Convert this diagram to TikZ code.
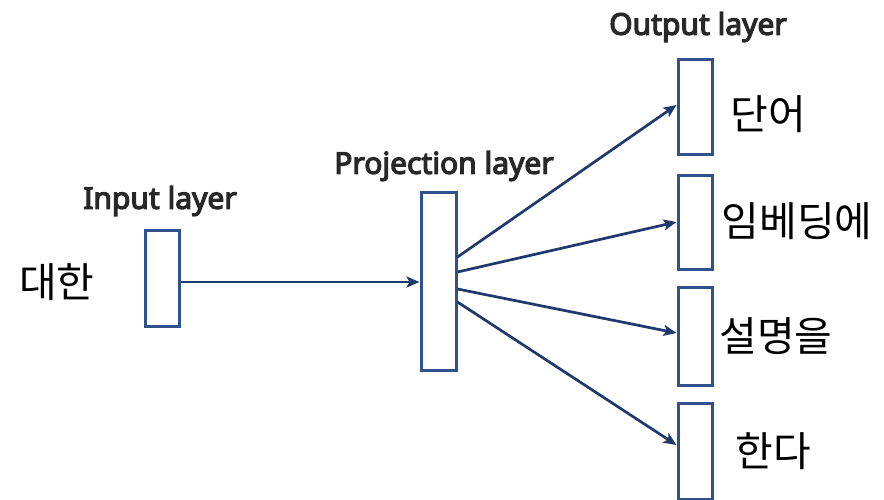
\documentclass[tikz,border=0pt]{standalone}
\usepackage{fontspec}
\usetikzlibrary{arrows.meta,calc}
\newfontfamily\kr{Noto Sans CJK KR}
\newfontfamily\lab{Noto Sans}[FakeBold=4]
\definecolor{boxblue}{RGB}{47,82,143}
\definecolor{arrblue}{RGB}{31,56,110}
\definecolor{labgray}{RGB}{40,40,40}
\begin{document}
\begin{tikzpicture}[x=1pt,y=-1pt,
  layerbox/.style={draw=boxblue,line width=3pt,fill=white,minimum width=34pt,inner sep=0pt},
  arr/.style={draw=arrblue,line width=2.7pt,-{Stealth[length=13pt,width=11pt,inset=3pt]}},
  laytext/.style={font=\lab\fontsize{30}{33}\selectfont,text=labgray,inner sep=0pt},
  word/.style={font=\kr\fontsize{41}{44}\selectfont,text=black,inner sep=0pt}]
\useasboundingbox (0,0) rectangle (884,499);
\node[layerbox,minimum height=96pt] (in) at (162,278) {};
\node[layerbox,minimum height=178pt,minimum width=35pt] (proj) at (438.5,281) {};
\node[layerbox,minimum height=95pt] (o1) at (695,106.5) {};
\node[layerbox,minimum height=94pt] (o2) at (695,222) {};
\node[layerbox,minimum height=98pt] (o3) at (695,336) {};
\node[layerbox,minimum height=96pt] (o4) at (695,451) {};
\node[laytext] (tin) at (160,201) {Input layer};
\node[laytext] (tproj) at (444,166) {Projection layer};
\node[laytext] (tout) at (698,27) {Output layer};
\node[word] (w0) at (57,282) {대한};
\node[word] (w1) at (768,114) {단어};
\node[word] (w2) at (797,221) {임베딩에};
\node[word] (w3) at (776,336) {설명을};
\node[word] (w4) at (773,451) {한다};
\coordinate (s1) at ($(proj.east)+(0,-24)$);
\coordinate (s2) at ($(proj.east)+(0,-9)$);
\coordinate (s3) at ($(proj.east)+(0,8)$);
\coordinate (s4) at ($(proj.east)+(0,21)$);
\draw[arr] ([yshift=-4pt]in.east) -- ([yshift=-4pt]in.east -| proj.west);
\draw[arr] (s1) -- ([yshift=1.5pt]o1.west);
\draw[arr] (s2) -- (o2.west);
\draw[arr] (s3) -- ([yshift=3pt]o3.west);
\draw[arr] (s4) -- ([yshift=6pt]o4.west);
\end{tikzpicture}
\end{document}
